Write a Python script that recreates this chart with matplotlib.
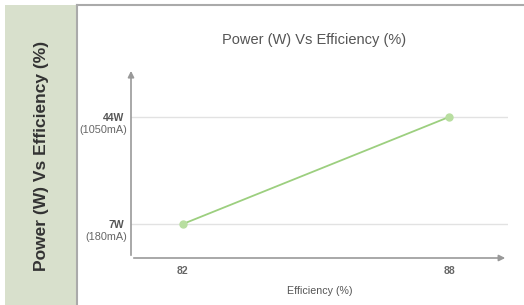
import matplotlib.pyplot as plt
from matplotlib.patches import Rectangle
from matplotlib.lines import Line2D

plt.rcParams['font.family'] = ['Liberation Sans', 'DejaVu Sans']

efficiency = [82, 88]
power = [7, 44]
power_labels = ['7W', '44W']
current_labels = ['(180mA)', '(1050mA)']
title = 'Power (W) Vs Efficiency (%)'

W, H = 524, 305
fig = plt.figure(figsize=(W / 100, H / 100), dpi=100)

# left side panel with vertical title
fig.patches.append(Rectangle((5 / W, 0), 72 / W, 300 / H, transform=fig.transFigure,
                             facecolor='#d8e0cc', edgecolor='none', zorder=0))
fig.lines.append(Line2D([77 / W, 77 / W], [0, 300 / H], transform=fig.transFigure,
                        color='#aaaaaa', lw=1.5))
fig.lines.append(Line2D([77 / W, 1], [300 / H, 300 / H], transform=fig.transFigure,
                        color='#aaaaaa', lw=1.5))
fig.text(42 / W, (H - 156) / H, title, rotation=90, ha='center', va='center',
         fontsize=12.5, fontweight='bold', color='#333333')

ax = fig.add_axes([131 / W, 47 / H, 377 / W, 188 / H])
ax.plot(efficiency, power, color='#9ccf7f', lw=1.3, marker='o', markersize=5,
        markerfacecolor='#b8dea0', markeredgecolor='#b8dea0', zorder=3)
ax.set_xlim(80.83, 89.33)
ax.set_ylim(-4.76, 60.25)

for s in ax.spines.values():
    s.set_visible(False)

ax.set_xticks(efficiency)
ax.set_xticklabels([str(e) for e in efficiency], fontweight='bold', fontsize=7.5, color='#666666')
ax.set_yticks(power)
ax.set_yticklabels(power_labels, fontweight='bold', fontsize=7.5, color='#555555')
ax.tick_params(length=0)
ax.tick_params(axis='x', pad=6)
ax.tick_params(axis='y', pad=5)
ax.grid(axis='y', color='#e2e2e2', lw=1)
ax.set_axisbelow(True)

for p, c in zip(power, current_labels):
    ax.annotate(c, xy=(0, p), xycoords=ax.get_yaxis_transform(), xytext=(-4, -13),
                textcoords='offset pixels', ha='right', va='center', fontsize=7.8, color='#666666')

# axis arrows
ax.annotate('', xy=(1, 0), xycoords='axes fraction', xytext=(0, 0),
            arrowprops=dict(arrowstyle='-|>', color='#999999', lw=1.2, mutation_scale=9))
ax.annotate('', xy=(0, 1.01), xycoords='axes fraction', xytext=(0, 0),
            arrowprops=dict(arrowstyle='-|>', color='#999999', lw=1.2, mutation_scale=9))

ax.set_xlabel('Efficiency (%)', fontsize=7.7, color='#555555', labelpad=7)
fig.text(314 / W, (H - 40) / H, title, ha='center', va='center', fontsize=10.5, color='#555555')

fig.savefig('out.png', dpi=100)
